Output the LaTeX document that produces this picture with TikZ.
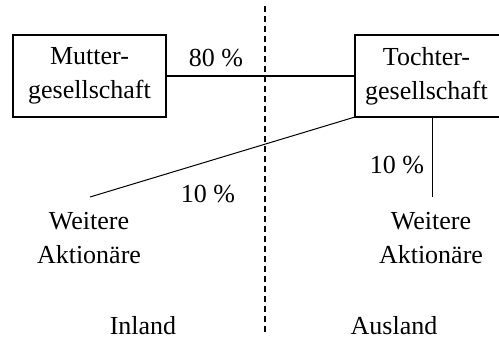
\documentclass[tikz,border=0pt]{standalone}
\usepackage{fontspec}
\setmainfont{Liberation Serif}
\begin{document}
\begin{tikzpicture}[x=1pt,y=-1pt,
  every node/.style={font=\fontsize{26}{34}\selectfont, inner sep=0pt, align=center},
  company/.style={draw, line width=1.3pt, minimum height=82pt},
  link/.style={line width=1.3pt},
  thinlink/.style={line width=1pt},
  border/.style={line width=1.2pt, dash pattern=on 6pt off 4pt}]
  \useasboundingbox (0,0) rectangle (499,343);

  % country border
  \coordinate (btop) at (265,6);
  \coordinate (bbot) at (265,333);
  \draw[border] (btop) -- (bbot);

  % companies
  \node[company, minimum width=153pt] (mutter) at (89.5,76) {Mutter-\\gesellschaft};
  \node[company, minimum width=146pt] (tochter) at (428,76) {\hspace*{-3pt}Tochter-\\\hspace*{-3pt}gesellschaft};

  % other shareholders
  \node (wl) at (89,238) {Weitere\\Aktionäre};
  \node (wr) at (431,238) {Weitere\\Aktionäre};
  \coordinate (wltop) at (90,197);
  \coordinate (wrtop) at (432,197);
  \coordinate (tbl) at (355,117);
  \coordinate (tbr) at (432,117);

  % holdings
  \draw[link] (mutter.east) -- (tochter.west);
  \node (p80) at (216,58) {80 \%};
  \draw[thinlink] (tbl) -- (wltop);
  \draw[thinlink] (tbr) -- (wrtop);
  \node (p10l) at (208,194) {10 \%};
  \node (p10r) at (397,165) {10 \%};

  % regions
  \node (inland) at (143,326) {Inland};
  \node (ausland) at (394,326) {Ausland};
\end{tikzpicture}
\end{document}
